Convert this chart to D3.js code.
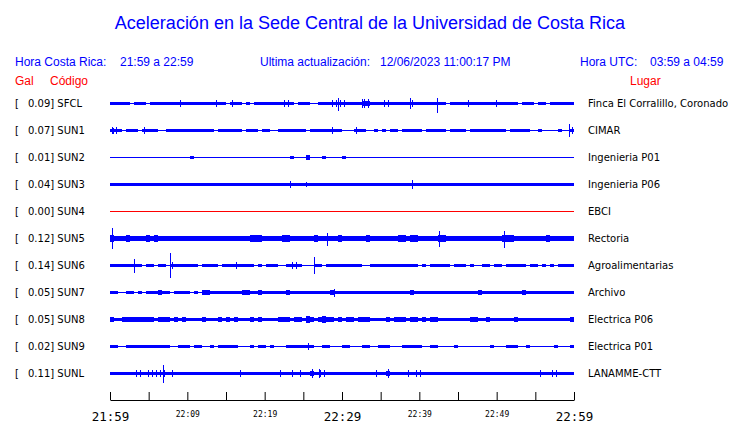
<!DOCTYPE html>
<html><head><meta charset="utf-8">
<script src="https://cdn.jsdelivr.net/npm/d3@7"></script>
<style>html,body{margin:0;padding:0;background:#fff;} svg{display:block;}</style>
</head><body>
<script>
// ---------------- data ----------------
const stations = ["SFCL","SUN1","SUN2","SUN3","SUN4","SUN5","SUN6","SUN7","SUN8","SUN9","SUNL"];
const galValues = [0.09,0.07,0.01,0.04,0.00,0.12,0.14,0.05,0.05,0.02,0.11];
const places = ["Finca El Corralillo, Coronado","CIMAR","Ingenieria P01","Ingenieria P06","EBCI","Rectoria","Agroalimentarias","Archivo","Electrica P06","Electrica P01","LANAMME-CTT"];

// amplitude envelope, one character per ~31 s bin (116 bins over 60 min)
// digit = solid band half-height; 'a' = band 1 with a peak of 3; 'b' = band 2 with a peak of 4
const envelopes = [
  "1111101110"+"1111111a11"+"111111a110"+"a110101111"+"111aa10111"+"00111aaaa1"+"111bb111aa"+"11111a1111"+"111101111a"+"111111a111"+"1101110110"+"111111",
  "aa101110a1"+"1100111111"+"1111110111"+"1110111011"+"0011111110"+"11111a1100"+"0a11001010"+"1101111101"+"1111011110"+"1111111110"+"1111100100"+"00100a",
  "0000000000"+"0000000000"+"1000000000"+"0000000000"+"0000010002"+"0001000010"+"0000000000"+"0000000000"+"0000000000"+"0000000000"+"0000000000"+"000000",
  "1111111111"+"1111111111"+"1111111111"+"1111111111"+"1111111111"+"1111111111"+"1111111111"+"1111111111"+"1111111111"+"1111111111"+"1111111111"+"111111",
  "0000000000"+"0000000000"+"0000000000"+"0000000000"+"0000000000"+"0000000000"+"0000000000"+"0000000000"+"0000000000"+"0000000000"+"0000000000"+"000000",
  "3222322223"+"2322222222"+"2222222222"+"2222233322"+"2223322222"+"2322222322"+"2222322222"+"2233233222"+"2233222222"+"2222222233"+"3222222223"+"222222",
  "1111111101"+"10110a1111"+"1101111011"+"1a11110101"+"11001aa100"+"0110111111"+"1110011111"+"1111111010"+"1111101110"+"1001101101"+"1111011010"+"101111",
  "1100110101"+"1121101111"+"0102211111"+"1112211211"+"1111211111"+"1111121111"+"1111111111"+"1111121111"+"1111111111"+"1121111111"+"1112111111"+"111111",
  "2112222222"+"2122212121"+"1112111212"+"1211121211"+"1122212213"+"2123221212"+"2122211112"+"1222122121"+"2211111111"+"2211211111"+"1211111111"+"111112",
  "1100111111"+"1111100111"+"0110010111"+"1100010110"+"100011111a"+"1001100011"+"0001100111"+"0001111100"+"1100001000"+"0000010001"+"1100100000"+"010001",
  "111111aa1a"+"aaaa1a1111"+"1111111111"+"11a1111111"+"11a11a1a11"+"b1aa111111"+"111111a11b"+"1111a1aa11"+"1111111111"+"1111111111"+"1111111a11"+"aa1111"
];

// isolated peaks: [minute, amplitude up, amplitude down]
const spikes = [
  [[29.5,5,7],[32.6,4,4],[38.8,5,5],[42.3,5,9]],
  [[0.4,2,3],[59.4,6,6]],
  [],
  [[23.3,3,3],[25.4,2,2],[39.1,4,4]],
  [],
  [[0.3,10,10],[28.0,5,7],[42.5,7,8],[50.9,7,9]],
  [[3.1,6,7],[7.8,12,12],[26.4,8,8]],
  [[29.0,3,4]],
  [],
  [],
  [[6.8,8,9],[27.0,4,4]]
];

const tickMinutes = [0,5,10,15,20,25,30,35,40,45,50,55,60];
const tickLabels = ["21:59","","22:09","","22:19","","22:29","","22:39","","22:49","","22:59"];
const majorTicks = [0,30,60];

// ---------------- drawing ----------------
const W = 740, H = 423;
const svg = d3.select("body").append("svg").attr("width", W).attr("height", H)
  .style("background", "#fff");

const x = d3.scaleLinear().domain([0, 60]).range([110, 574]);
const y = d3.scalePoint().domain(stations).range([103, 373]);
const amp = d3.scaleLinear().domain([0, 10]).range([0, 10]);

const sans = "'Liberation Sans', Arial, Helvetica, sans-serif";
const dv = "'DejaVu Sans', sans-serif";

svg.append("text").attr("x", 370).attr("y", 29).attr("text-anchor", "middle")
  .attr("font-family", sans).attr("font-size", 18).attr("fill", "#0000ff")
  .text("Aceleración en la Sede Central de la Universidad de Costa Rica");

const header = [
  [15, "Hora Costa Rica:"], [120, "21:59 a 22:59"],
  [260, "Ultima actualización:"], [380, "12/06/2023 11:00:17 PM"],
  [580, "Hora UTC:"], [650, "03:59 a 04:59"]
];
svg.selectAll("text.hdr").data(header).join("text").attr("class", "hdr")
  .attr("x", d => d[0]).attr("y", 66)
  .attr("font-family", sans).attr("font-size", 12).attr("fill", "#0000ff")
  .text(d => d[1]);

const sub = [[15, "Gal"], [50, "Código"], [630, "Lugar"]];
svg.selectAll("text.sub").data(sub).join("text").attr("class", "sub")
  .attr("x", d => d[0]).attr("y", 84.5)
  .attr("font-family", sans).attr("font-size", 12).attr("fill", "#ff0000")
  .text(d => d[1]);

const codeLevels = { a: [1, 3], b: [2, 4] };
const decode = ch => /\d/.test(ch) ? [+ch, 0] : codeLevels[ch];

const rows = stations.map((s, i) => ({
  code: s, gal: galValues[i], place: places[i],
  env: envelopes[i].split("").map(decode), spikes: spikes[i]
}));

const row = svg.selectAll("g.row").data(rows).join("g").attr("class", "row")
  .attr("transform", d => `translate(0,${y(d.code)})`);

row.append("text").attr("x", 15).attr("y", 4)
  .attr("font-family", dv).attr("font-size", 10).attr("fill", "#000").text("[");
row.append("text").attr("x", 28).attr("y", 4)
  .attr("font-family", dv).attr("font-size", 10).attr("fill", "#000")
  .text(d => d3.format(".2f")(d.gal) + "] " + d.code);
row.append("text").attr("x", 588).attr("y", 4)
  .attr("font-family", dv).attr("font-size", 10).attr("fill", "#000")
  .text(d => d.place);

const color = d => d.gal === 0 ? "#ff0000" : "#0000ff";

row.each(function(d) {
  const g = d3.select(this).attr("shape-rendering", "crispEdges");
  const c = color(d);
  const n = d.env.length, binMin = 60 / n;
  const bins = d.env.map((v, i) => ({ solid: v[0], peak: v[1], i }));
  g.append("rect").attr("x", x(0)).attr("y", 0)
    .attr("width", x(60) - x(0)).attr("height", 1).attr("fill", c);
  g.selectAll("rect.bin").data(bins.filter(e => e.solid > 0))
    .join("rect").attr("class", "bin")
    .attr("x", e => x(e.i * binMin))
    .attr("width", e => x((e.i + 1) * binMin) - x(e.i * binMin))
    .attr("y", e => -amp(e.solid))
    .attr("height", e => 2 * amp(e.solid) + 1)
    .attr("fill", c);
  g.selectAll("rect.pk").data(bins.filter(e => e.peak > 0))
    .join("rect").attr("class", "pk")
    .attr("x", e => Math.round(x((e.i + 0.5) * binMin)))
    .attr("width", 1)
    .attr("y", e => -amp(e.peak))
    .attr("height", e => 2 * amp(e.peak) + 1)
    .attr("fill", c);
  g.selectAll("rect.spk").data(d.spikes).join("rect").attr("class", "spk")
    .attr("x", s => Math.round(x(s[0])))
    .attr("width", 1)
    .attr("y", s => -amp(s[1]))
    .attr("height", s => amp(s[1]) + amp(s[2]) + 1)
    .attr("fill", c);
});

// time axis
const axis = d3.axisBottom(x).tickValues(tickMinutes)
  .tickSizeInner(-8).tickSizeOuter(0)
  .tickFormat((m, i) => tickLabels[i]);
const ax = svg.append("g").attr("transform", "translate(0,400)").call(axis);
ax.select(".domain").attr("stroke", "#000");
ax.selectAll(".tick line").attr("stroke", "#000");
ax.selectAll(".tick text")
  .attr("font-family", "'DejaVu Sans Mono', monospace")
  .attr("fill", "#000")
  .attr("dy", null)
  .attr("font-size", m => majorTicks.includes(m) ? 12.5 : 8)
  .attr("y", m => majorTicks.includes(m) ? 20.5 : 17);
</script>
</body></html>
